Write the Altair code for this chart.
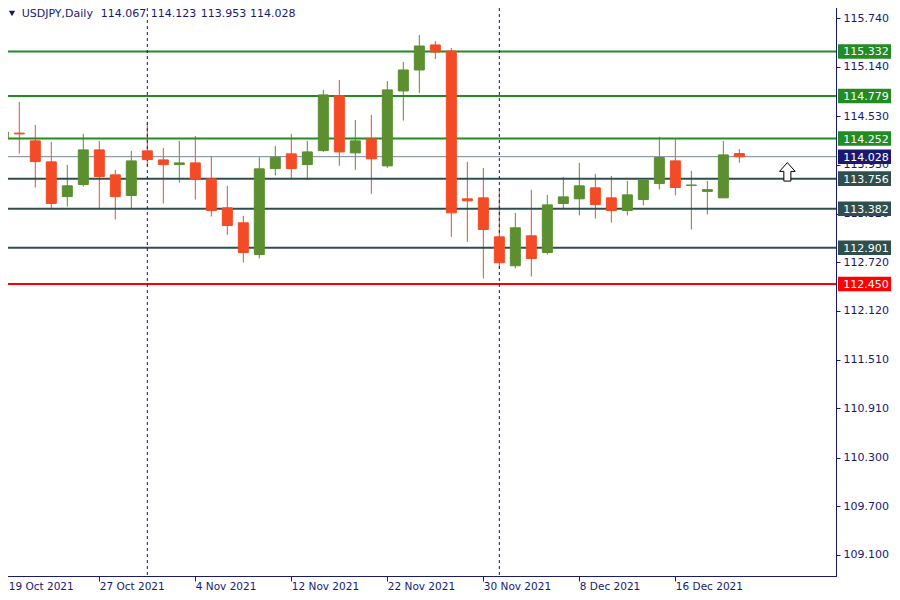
import altair as alt
import pandas as pd

# ---------------- data ----------------
dates = ["19 Oct", "20 Oct", "21 Oct", "22 Oct", "25 Oct", "26 Oct", "27 Oct", "28 Oct", "29 Oct",
         "1 Nov", "2 Nov", "3 Nov", "4 Nov", "5 Nov", "8 Nov", "9 Nov", "10 Nov", "11 Nov", "12 Nov",
         "15 Nov", "16 Nov", "17 Nov", "18 Nov", "19 Nov", "22 Nov", "23 Nov", "24 Nov", "25 Nov",
         "26 Nov", "29 Nov", "30 Nov", "1 Dec", "2 Dec", "3 Dec", "6 Dec", "7 Dec", "8 Dec", "9 Dec",
         "10 Dec", "13 Dec", "14 Dec", "15 Dec", "16 Dec", "17 Dec", "20 Dec", "21 Dec", "22 Dec"]
opens = [114.250, 114.320, 114.224, 113.964, 113.534, 113.683, 114.112, 113.803, 113.547,
         114.100, 113.988, 113.930, 113.951, 113.753, 113.394, 113.209, 112.816, 113.881, 114.063,
         113.930, 114.103, 114.784, 114.075, 114.248, 113.914, 114.842, 115.102, 115.412,
         115.337, 113.506, 113.518, 113.035, 112.677, 113.048, 112.841, 113.448, 113.506, 113.642,
         113.518, 113.361, 113.497, 113.695, 113.976, 113.672, 113.598, 113.518, 114.067]
highs = [114.393, 114.706, 114.422, 114.211, 113.927, 114.310, 114.224, 113.865, 114.100,
         114.450, 114.137, 114.224, 114.285, 114.038, 113.667, 113.295, 114.022, 114.162, 114.310,
         114.224, 114.855, 114.978, 114.483, 114.545, 114.966, 115.201, 115.535, 115.461,
         115.374, 113.964, 113.889, 113.633, 113.332, 113.617, 113.555, 113.778, 113.951, 113.815,
         113.790, 113.728, 113.753, 114.273, 114.248, 113.852, 113.728, 114.224, 114.123]
lows = [113.873, 114.066, 113.646, 113.394, 113.410, 113.658, 113.378, 113.250, 113.386,
        113.914, 113.448, 113.707, 113.497, 113.287, 113.060, 112.717, 112.767, 113.794, 113.757,
        113.741, 114.087, 113.914, 113.865, 113.568, 113.889, 114.475, 114.818, 115.238,
        113.035, 112.974, 112.519, 112.648, 112.643, 112.544, 112.816, 113.386, 113.300, 113.262,
        113.212, 113.300, 113.423, 113.621, 113.547, 113.126, 113.311, 113.518, 113.953]
closes = [114.335, 114.310, 113.967, 113.448, 113.667, 114.112, 113.782, 113.534, 113.976,
          113.992, 113.930, 113.951, 113.745, 113.361, 113.175, 112.841, 113.877, 114.022, 113.881,
          114.087, 114.793, 114.087, 114.224, 114.001, 114.855, 115.102, 115.399, 115.325,
          113.332, 113.481, 113.126, 112.714, 113.147, 112.767, 113.431, 113.530, 113.667, 113.435,
          113.361, 113.555, 113.745, 114.017, 113.646, 113.677, 113.620, 114.050, 114.028]

level_prices = [115.332, 114.779, 114.252, 113.756, 113.382, 112.901, 112.450]
level_colors = ["#228B22", "#228B22", "#228B22", "#2F4F4F", "#2F4F4F", "#2F4F4F", "#FF0000"]
current_price = [114.028]
y_tick_values = [115.740, 115.140, 114.530, 113.930, 113.320, 112.720, 112.120,
                 111.510, 110.910, 110.300, 109.700, 109.100]
x_tick_index = [0, 6, 12, 18, 24, 30, 36, 42]
separator_index = [9, 31]
arrow_index = [49]
arrow_price = [113.84]
title_parts = ["USDJPY,Daily", "114.067", "114.123", "113.953", "114.028"]
year = "2021"

# ---------------- styles / layout ----------------
NAVY = "#191970"
BULL = "#5B8F30"
BEAR = "#F24B26"
LABEL_FONT = "DejaVu Sans"
TITLE_X = [18.7, 97.7, 147.7, 197.7, 247.0]   # left edge of each title piece (px)
TITLE_Y = 11.5

candles = pd.DataFrame({
    "idx": list(range(len(dates))),
    "date": dates,
    "open": opens, "high": highs, "low": lows, "close": closes,
})
candles["dir"] = ["up" if c >= o else "down" for o, c in zip(opens, closes)]

levels = pd.DataFrame({"price": level_prices, "color": level_colors})
cur = pd.DataFrame({"price": current_price, "color": [NAVY]})
labels_df = pd.concat([levels, cur], ignore_index=True)
seps = pd.DataFrame({"idx": separator_index})
arrow = pd.DataFrame({"idx": arrow_index, "price": arrow_price})

tick_labels = [dates[i] + " " + year for i in x_tick_index]
label_expr = "[" + ",".join("'" + s + "'" for s in tick_labels) + "][indexof(" + \
    "[" + ",".join(str(i) for i in x_tick_index) + "], datum.value)]"

xscale = alt.Scale(domain=[-0.019, 52.04], nice=False, zero=False, padding=0)
yscale = alt.Scale(domain=[108.834, 115.944], nice=False, zero=False, padding=0)
dir_color = alt.Scale(domain=["up", "down"], range=[BULL, BEAR])

x_axis = alt.Axis(values=x_tick_index, labelExpr=label_expr, labelAlign="left",
                  labelFont=LABEL_FONT, labelFontSize=10.5, labelColor=NAVY,
                  labelOffset={"expr": "datum.value === 0 ? 5 : 0"},
                  tickColor=NAVY, domainColor=NAVY, tickSize=5, labelPadding=0,
                  grid=False, title=None, labelFlush=False, labelOverlap=False)
y_axis = alt.Axis(orient="right", values=y_tick_values, format=".3f",
                  labelFont=LABEL_FONT, labelFontSize=11, labelColor=NAVY,
                  tickColor=NAVY, domainColor=NAVY, tickSize=4, labelPadding=3,
                  grid=False, title=None, labelOverlap=False, labelFlush=False)


def X(field):
    return alt.X(field, scale=xscale, axis=x_axis, title=None)


def Y(field):
    return alt.Y(field, scale=yscale, axis=y_axis, title=None)


base = alt.Chart(candles)

wicks = base.mark_rule(strokeWidth=1, clip=True).encode(
    x=X("idx:Q"),
    y=Y("low:Q"),
    y2="high:Q",
    color=alt.Color("dir:N", scale=dir_color, legend=None),
)

bodies = base.mark_bar(width=10, strokeWidth=1, clip=True).encode(
    x=X("idx:Q"),
    y=Y("open:Q"),
    y2="close:Q",
    color=alt.Color("dir:N", scale=dir_color, legend=None),
    stroke=alt.Stroke("dir:N", scale=dir_color, legend=None),
)

level_lines = alt.Chart(levels).mark_rule(strokeWidth=2).encode(
    y=Y("price:Q"),
    color=alt.Color("color:N", scale=None),
)

cur_line = alt.Chart(cur).mark_rule(strokeWidth=1, color="#778899").encode(
    y=Y("price:Q"),
)

sep_lines = alt.Chart(seps).mark_rule(strokeWidth=1, color=NAVY, strokeDash=[3, 3]).encode(
    x=X("idx:Q"),
)

label_boxes = alt.Chart(labels_df).transform_calculate(
    top="datum.price + 0.09", bot="datum.price - 0.09"
).mark_rect().encode(
    x=alt.value(835), x2=alt.value(891),
    y=Y("top:Q"),
    y2="bot:Q",
    color=alt.Color("color:N", scale=None),
)

label_texts = alt.Chart(labels_df).transform_calculate(
    lab="format(datum.price, '.3f')"
).mark_text(font=LABEL_FONT, fontSize=11, color="white", align="center", baseline="middle", dy=1).encode(
    x=alt.value(863),
    y=Y("price:Q"),
    text="lab:N",
)

arrow_path = "M0,-1 L0.85,-0.05 L0.38,-0.05 L0.38,1 L-0.38,1 L-0.38,-0.05 L-0.85,-0.05 Z"
arrow_mark = alt.Chart(arrow).mark_point(shape=arrow_path, size=340, filled=True,
                                         fill="white", stroke="black", strokeWidth=1,
                                         opacity=1).encode(
    x=X("idx:Q"),
    y=Y("price:Q"),
)

title_layers = []
for part, px in zip(title_parts, TITLE_X):
    title_layers.append(
        alt.Chart(pd.DataFrame({"t": [part]})).mark_text(
            font=LABEL_FONT, fontSize=11, color=NAVY, align="left", baseline="middle"
        ).encode(x=alt.value(px), y=alt.value(TITLE_Y), text="t:N")
    )

tri_mark = alt.Chart(pd.DataFrame({"t": [title_parts[0]]})).mark_point(
    shape="triangle-down", size=40, filled=True, color=NAVY, opacity=1
).encode(x=alt.value(9), y=alt.value(TITLE_Y))

chart = alt.layer(
    wicks, level_lines, cur_line, sep_lines, bodies,
    label_boxes, label_texts, arrow_mark, *title_layers, tri_mark,
).properties(
    width=833, height=574,
    autosize=alt.AutoSizeParams(type="none"),
    padding={"left": -5, "top": -6, "right": 55, "bottom": 20},
    background="white",
).configure_view(
    stroke=NAVY, strokeWidth=1,
)

chart.save("out.html", embed_options={"renderer": "svg", "actions": False})
